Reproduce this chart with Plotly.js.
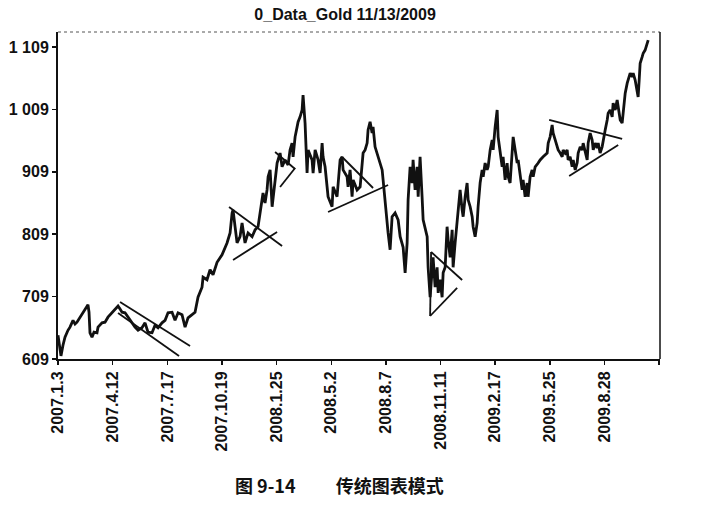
<!DOCTYPE html>
<html>
<head>
<meta charset="utf-8">
<script src="https://cdn.plot.ly/plotly-3.0.1.min.js"></script>
<style>
  html, body { margin: 0; padding: 0; background: #fff; }
  #chart { width: 728px; height: 512px; }
</style>
</head>
<body>
<div id="chart"></div>
<script>
// trading day index (0 = 2007.1.3) and gold price
const dayIndex = [
  0, 2.5, 3.7, 6.2, 8.7, 12.4, 14.9, 18.7, 21.2, 23.6, 27.4, 31.1, 34.8, 37.3, 38.6, 39.8, 42.3, 44.8, 48.5, 49.8,
  54.8, 58.5, 62.2, 67.2, 70.9, 74.7, 77.2, 79.7, 83.4, 87.1, 92.1, 95.8, 99.6, 104.5, 108.3, 112.0, 117.0, 120.7, 124.5, 129.4,
  133.2, 136.9, 141.9, 145.6, 149.4, 154.3, 158.1, 161.8, 166.8, 170.5, 174.2, 179.2, 180.5, 185.4, 189.2, 192.9, 197.9, 204.1, 210.3, 214.1,
  216.6, 217.8, 220.3, 222.8, 226.5, 229.0, 232.7, 236.5, 241.5, 245.2, 248.9, 251.4, 253.9, 255.1, 257.6, 260.1, 261.4, 263.9, 266.4, 270.1,
  272.6, 276.3, 278.8, 282.5, 286.3, 288.7, 291.2, 292.5, 295.0, 297.5, 298.7, 301.2, 303.7, 304.9, 307.4, 309.9, 311.2, 316.1, 317.4, 319.9,
  323.6, 326.1, 328.6, 329.8, 332.3, 334.8, 336.0, 341.0, 342.3, 347.2, 351.0, 353.5, 354.7, 359.7, 360.9, 363.4, 365.9, 367.2, 372.1, 375.9,
  378.4, 379.6, 382.1, 384.6, 385.8, 388.3, 390.8, 392.0, 394.5, 397.0, 398.3, 400.8, 403.3, 404.5, 407.0, 409.5, 410.7, 413.2, 415.7, 419.4,
  423.2, 425.7, 429.4, 431.9, 434.4, 435.6, 438.1, 440.6, 441.8, 444.3, 446.8, 448.1, 450.5, 453.0, 454.3, 459.3, 460.5, 463.0, 465.5, 466.7,
  469.2, 471.7, 473.0, 475.4, 477.9, 479.2, 481.7, 484.1, 485.4, 487.9, 490.4, 491.6, 494.1, 496.6, 497.8, 500.3, 502.8, 504.1, 506.6, 509.0,
  510.3, 512.8, 515.3, 516.5, 519.0, 521.5, 522.7, 525.2, 527.7, 529.0, 531.4, 533.9, 535.2, 537.7, 540.2, 541.4, 543.9, 546.4, 547.6, 550.1,
  552.6, 553.8, 556.3, 558.8, 560.1, 562.5, 565.0, 566.3, 568.8, 571.3, 572.5, 575.0, 577.5, 578.7, 581.2, 583.7, 584.9, 587.4, 589.9, 591.2,
  593.7, 597.4, 599.9, 603.6, 608.6, 609.9, 612.3, 614.8, 616.1, 618.6, 621.1, 622.3, 624.8, 627.3, 628.5, 631.0, 633.5, 634.7, 637.2, 639.7,
  641.0, 643.5, 645.9, 647.2, 649.7, 652.2, 653.4, 655.9, 658.4, 659.6, 662.1, 664.6, 665.9, 668.3, 670.8, 672.1, 674.5, 677.0, 678.3, 680.8,
  683.3, 684.5, 687.0, 689.5, 690.7, 693.2, 695.7, 697.0, 699.5, 701.9, 703.2, 705.7, 708.2, 709.4, 711.9, 714.4, 715.6, 718.1, 720.6, 721.8,
  723.1, 724.3, 726.8, 728.1, 730.5, 733.0, 734.3
];
const goldPrice = [
  647, 623, 614, 631, 644, 655, 660, 671, 665, 668, 676, 683, 691, 696, 684, 651, 644, 652, 651, 660,
  667, 668, 676, 683, 688, 694, 689, 684, 683, 676, 668, 660, 655, 659, 667, 652, 651, 663, 659, 667,
  671, 683, 684, 671, 683, 680, 660, 675, 680, 684, 708, 724, 740, 736, 752, 744, 764, 776, 795, 811,
  843, 848, 821, 795, 805, 827, 795, 811, 805, 816, 821, 843, 864, 875, 859, 880, 901, 912, 853, 901,
  923, 939, 917, 928, 920, 944, 955, 933, 965, 981, 989, 997, 1008, 1032, 987, 907, 944, 928, 907, 944,
  928, 907, 955, 933, 917, 885, 869, 853, 885, 869, 928, 933, 912, 901, 885, 912, 869, 896, 880, 885,
  917, 939, 944, 955, 976, 989, 971, 981, 949, 939, 933, 923, 912, 896, 856, 827, 811, 784, 837, 843,
  832, 805, 788, 747, 795, 864, 917, 891, 928, 880, 917, 869, 933, 869, 832, 805, 756, 708, 747, 772,
  724, 756, 715, 736, 708, 747, 756, 821, 800, 772, 816, 756, 795, 827, 843, 880, 848, 837, 869, 891,
  864, 853, 837, 821, 805, 827, 853, 891, 912, 901, 923, 912, 917, 944, 960, 944, 981, 1008, 965, 944,
  917, 933, 896, 923, 901, 891, 944, 965, 944, 923, 928, 907, 880, 896, 869, 891, 869, 901, 912, 901,
  917, 923, 928, 933, 939, 955, 965, 984, 971, 960, 949, 944, 939, 933, 944, 939, 944, 928, 933, 917,
  928, 912, 923, 939, 949, 944, 955, 939, 928, 955, 971, 960, 944, 955, 947, 955, 939, 949, 960, 976,
  992, 1003, 1008, 997, 1019, 1008, 1024, 1013, 992, 987, 1008, 1035, 1051, 1056, 1067, 1061, 1067, 1056, 1040, 1029,
  1056, 1083, 1093, 1099, 1104, 1115, 1120
];

// hand drawn pattern lines (channel and triangles), in trading day / price
const lineStartDay   = [77.2, 74.7, 212.8, 217.8, 270.1, 276.3, 353.5, 336.0, 464.2, 464.2, 463.0, 611.1, 636.0];
const lineStartPrice = [700.3, 682.7, 852.6, 767.7, 940.7, 884.6, 932.7, 844.6, 780.5, 780.5, 677.9, 992.0, 902.3];
const lineEndDay     = [164.3, 150.6, 278.8, 272.6, 295.0, 295.0, 392.0, 410.7, 502.8, 463.0, 496.6, 701.9, 697.0];
const lineEndPrice   = [629.8, 613.8, 790.1, 812.5, 913.5, 915.1, 883.0, 887.9, 735.6, 677.9, 722.8, 961.6, 952.0];

// x axis ticks
const tickDay   = [0, 68, 136, 204, 272, 340, 408, 476, 544, 612, 680, 748];
const tickLabel = ['2007.1.3', '2007.4.12', '2007.7.17', '2007.10.19', '2008.1.25', '2008.5.2',
                   '2008.8.7', '2008.11.11', '2009.2.17', '2009.5.25', '2009.8.28', ''];
// y axis ticks
const priceTick  = [609, 709, 809, 909, 1009, 1109];
const priceLabel = ['609', '709', '809', '909', '1 009', '1 109'];

const traces = [{
  x: dayIndex,
  y: goldPrice,
  type: 'scatter',
  mode: 'lines',
  line: { color: '#111', width: 2.8 },
  hoverinfo: 'skip'
}];

for (let i = 0; i < lineStartDay.length; i++) {
  traces.push({
    x: [lineStartDay[i], lineEndDay[i]],
    y: [lineStartPrice[i], lineEndPrice[i]],
    type: 'scatter',
    mode: 'lines',
    line: { color: '#111', width: 1.8 },
    hoverinfo: 'skip'
  });
}

const layout = {
  width: 728,
  height: 512,
  margin: { l: 58, r: 68, t: 32, b: 153 },
  paper_bgcolor: '#fff',
  plot_bgcolor: '#fff',
  showlegend: false,
  font: { family: 'Liberation Sans, Arial, sans-serif', color: '#111' },
  title: {
    text: '0_Data_Gold 11/13/2009',
    font: { size: 16, weight: 'bold', color: '#111' },
    x: 0.474, xanchor: 'center',
    y: 0.971, yanchor: 'middle'
  },
  xaxis: {
    range: [0, 749],
    tickvals: tickDay,
    ticktext: tickLabel,
    tickangle: -90,
    ticks: 'outside', ticklen: 4, tickwidth: 1.5, tickcolor: '#111',
    tickfont: { size: 16, weight: 'bold' },
    showgrid: false, zeroline: false,
    showline: true, linecolor: '#111', linewidth: 2
  },
  yaxis: {
    range: [609, 1133],
    tickvals: priceTick,
    ticktext: priceLabel,
    ticks: 'outside', ticklen: 4, tickwidth: 1.5, tickcolor: '#111',
    tickfont: { size: 16, weight: 'bold' },
    showgrid: false, zeroline: false,
    showline: true, linecolor: '#111', linewidth: 2
  },
  shapes: [
    { type: 'line', xref: 'paper', yref: 'paper', x0: 0, x1: 1, y0: 1, y1: 1,
      line: { color: '#555', width: 1, dash: 'dot' } },
    { type: 'line', xref: 'paper', yref: 'paper', x0: 1, x1: 1, y0: 0, y1: 1,
      line: { color: '#111', width: 1.5 } }
  ],
  annotations: [{
    text: '图 9-14\u3000\u3000 传统图表模式',
    xref: 'paper', yref: 'paper',
    x: (233 - 58) / 602, xanchor: 'left',
    y: -(485 - 359) / 327, yanchor: 'middle',
    showarrow: false,
    font: { family: 'Noto Sans CJK SC, sans-serif', size: 18, weight: 'bold', color: '#111' }
  }]
};

Plotly.newPlot('chart', traces, layout, { staticPlot: true, displayModeBar: false });
</script>
</body>
</html>
